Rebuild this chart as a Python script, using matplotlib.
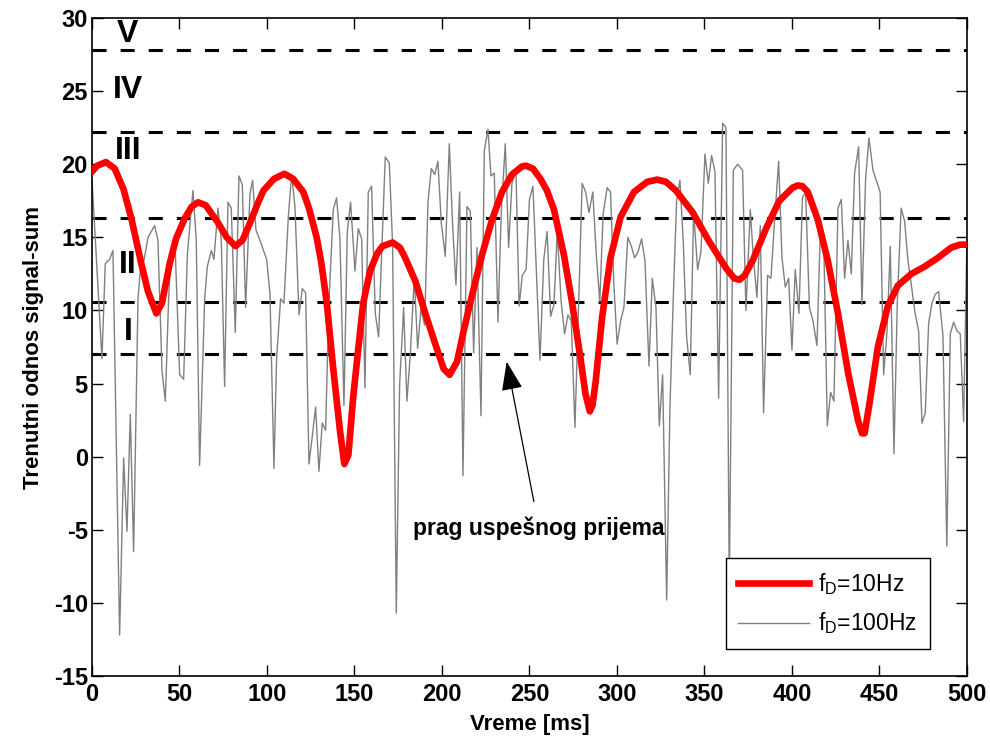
import numpy as np
import matplotlib
matplotlib.use("Agg")
import matplotlib.pyplot as plt

plt.rcParams['font.family'] = ['Liberation Sans', 'DejaVu Sans']
plt.rcParams['axes.unicode_minus'] = False

# fD = 100 Hz (tanka siva linija)
t_100 = [0, 5.7, 7.6, 10.1, 12, 15.8, 18.1, 20, 21.9, 23.8, 26.3, 28.2, 29.7, 32, 35.8, 37.7,
         40, 41.9, 43.8, 45.3, 47.6, 50.1, 52.4, 54.5, 57.7, 59.6, 61.5, 64.4, 65.9, 68.2, 69.7,
         72, 73.9, 75.8, 77.7, 79.6, 81.9, 84, 85.9, 87.8, 90.3, 91.8, 93.7, 96, 99.8, 101.7,
         104, 105.5, 107.8, 109.7, 112.2, 114.1, 116, 118.3, 120.2, 122.1, 124, 125.9, 127.8,
         129.7, 131.6, 133.5, 135.4, 137.9, 139.8, 141.7, 144, 145.9, 147.8, 150.3, 152.2,
         154.1, 156, 157.9, 159.8, 161.9, 163.8, 165.7, 167.6, 169.9, 171.8, 173.9, 175.8,
         178.1, 180, 181.9, 184.2, 186.1, 188, 190.1, 192, 193.9, 195.8, 197.7, 199.6, 201.9,
         204.2, 206.1, 208, 210.1, 212, 214.3, 216.2, 218.1, 220, 222.3, 224.2, 226.3, 228,
         229.9, 232, 233.9, 236.2, 238.1, 240, 242.3, 244.1, 245.9, 248.1, 250, 252, 253.9,
         256, 258.2, 260.1, 262.1, 264, 265.9, 268.1, 270.1, 272, 273.9, 276, 277.9, 280.1,
         282.1, 284, 286.2, 288.2, 290.2, 292.1, 294.4, 296.3, 298.2, 300.1, 302.1, 304,
         306.2, 308.2, 310.1, 312, 314.1, 316, 318.3, 320.2, 322.3, 324.2, 326.1, 328.4,
         330.3, 332.2, 334.1, 336, 337.9, 339.8, 341.9, 343.8, 346.1, 348, 350.3, 352.2,
         354.1, 356, 358.1, 360.4, 362.3, 364.2, 366.5, 369, 371.8, 373.7, 376.2, 377.9,
         380, 381.9, 383.8, 386.1, 388, 389.9, 392.4, 394.3, 396.2, 398.1, 400, 401.9, 404,
         406, 407.8, 410, 412, 414.3, 416.2, 418.1, 420.2, 422.1, 424, 426.3, 428.2, 430.1,
         432, 433.9, 435.8, 438.1, 440, 442.1, 444, 446.3, 450.4, 452.4, 454.3, 456.2, 458.3,
         460.2, 462.4, 464.4, 466.3, 468.5, 470.4, 472.4, 474.3, 476.2, 478.1, 480, 481.9,
         483.8, 486.3, 488.5, 490.5, 492.4, 494.3, 496.2, 498.1, 500]
snr_100 = [19.0, 6.7, 13.2, 13.5, 14.1, -12.2, -0.1, -5.1, 2.9, -6.5, 10.8, 13.5, 13.4, 15.0, 15.8, 14.8,
           5.9, 3.8, 10.8, 14.3, 14.1, 5.6, 5.3, 13.8, 18.2, 14.8, -0.6, 10.8, 13.0, 14.1, 13.5,
           17.0, 14.8, 4.8, 17.4, 17.0, 8.5, 19.2, 18.6, 10.2, 18.0, 18.9, 15.5, 14.8, 13.5, 11.2,
           -0.8, 6.7, 10.8, 10.5, 16.4, 19.3, 17.1, 9.7, 11.5, 11.2, -0.5, 1.4, 3.4,
           -1.0, 2.3, 1.8, 10.5, 16.9, 17.7, 14.9, 3.5, 15.4, 17.4, 12.7, 15.6,
           14.9, 4.7, 18.1, 18.5, 9.8, 8.2, 14.3, 20.5, 20.1, 14.5, -10.7, 4.9,
           10.2, 3.8, 7.0, 12.3, 7.4, 10.1, 9.0, 17.4, 19.7, 19.3, 20.2, 16.0, 13.7,
           21.4, 15.8, 11.75, 18.1, -1.3, 17.1, 16.8, 7.1, 14.3, 2.8, 20.9, 22.4, 19.2,
           19.4, 9.2, 16.8, 21.4, 14.3, 18.7, 19.5, 10.3, 12.4, 12.8, 17.6, 18.5, 12.8,
           6.6, 13.5, 15.4, 9.6, 10.4, 15.4, 10.6, 8.4, 9.7, 9.3, 2.0, 9.6, 18.7,
           18.1, 16.7, 18.1, 13.8, 10.6, 16.6, 18.4, 18.1, 11.9, 7.7, 9.3, 10.2,
           15.0, 14.4, 13.6, 14.0, 14.9, 13.4, 6.2, 12.2, 10.2, 2.1, 5.6, -9.8,
           3.4, 10.9, 17.5, 18.9, 14.7, 8.2, 5.6, 16.8, 12.8, 14.0, 20.7, 18.7,
           20.6, 19.5, 4.0, 22.8, 22.5, -9.0, 19.6, 20.0, 19.6, 10.0, 16.9, 13.7,
           10.9, 15.8, 3.0, 12.4, 12.2, 15.8, 20.2, 13.6, 11.6, 12.2, 7.3, 12.8, 9.8,
           17.7, 18.1, 10.2, 9.3, 7.6, 15.3, 15.3, 2.1, 4.4, 3.8, 17.0, 17.6, 12.2,
           14.8, 12.5, 19.4, 21.2, 10.4, 19.0, 21.8, 19.6, 18.1, 5.6, 8.5, 14.4, 0.2,
           10.5, 17.0, 16.1, 13.4, 11.5, 9.8, 8.6, 2.3, 3.0, 9.1, 10.5, 11.1,
           11.3, 8.3, -6.1, 8.4, 9.2, 8.6, 8.4, 2.4, 15.0]

# fD = 10 Hz (debela crvena linija)
t_10 = [0, 3, 8, 13, 18, 22.5, 28.2, 32, 36.8, 40, 44.4, 48, 53, 57, 60.6, 65, 72, 77, 82, 86,
        90, 95, 98, 104, 110, 115, 120.8, 124, 128.4, 131, 134.1, 137.9, 141.7, 144.2, 146.5,
        149.3, 152.2, 155, 158.9, 163, 166, 171.8, 176, 179, 184.8, 190.5, 196.2, 201, 204.4,
        208.6, 212.4, 217.1, 222.9, 228.6, 234.3, 240, 245.7, 248, 252, 256.3, 260, 264,
        269.7, 274.4, 279.2, 282, 284.5, 286, 287.8, 291.6, 296.3, 302.1, 309.7, 317.3, 323,
        328, 333.7, 343.3, 352.8, 362.3, 367, 370, 373, 377.5, 385.2, 392.8, 400.4, 403.4,
        406, 409.1, 414.8, 420.5, 426.3, 432, 437.7, 440, 441.5, 444.4, 449.1, 454.8, 460.5,
        468.2, 475.8, 483.4, 491, 496, 500]
snr_10 = [19.5, 19.9, 20.15, 19.7, 18.3, 16.3, 13.2, 11.3, 9.8, 10.5, 13.2, 14.9, 16.3, 17.1, 17.4, 17.2, 16.0, 15.0, 14.4, 14.8,
          15.9, 17.4, 18.2, 19.0, 19.35, 19.0, 18.1, 17.0, 15.0, 13.3, 10.6, 6.0, 1.8, -0.5, 0.1,
          4.1, 7.4, 10.5, 12.7, 13.9, 14.4, 14.65, 14.3, 13.6, 12.0, 9.8, 7.7, 6.0, 5.6,
          6.5, 8.6, 11.0, 13.8, 16.2, 18.1, 19.3, 19.85, 19.9, 19.7, 19.0, 18.2, 16.9,
          13.8, 10.5, 6.7, 4.3, 3.1, 3.5, 5.1, 9.6, 13.6, 16.4, 18.1, 18.8, 18.95,
          18.8, 18.2, 16.7, 14.7, 12.9, 12.2, 12.1, 12.4, 13.4, 15.6, 17.5, 18.4, 18.55,
          18.5, 18.1, 16.2, 13.4, 9.8, 5.8, 2.5, 1.6, 1.6, 3.7, 7.5, 10.3, 11.7,
          12.5, 13.0, 13.6, 14.3, 14.5, 14.5]

# pragovi i oznake oblasti
pragovi = [7.0, 10.6, 16.3, 22.2, 27.8]
oznake = ['I', 'II', 'III', 'IV', 'V']
oznake_y = [8.5, 13.1, 20.9, 25.1, 28.9]

fig = plt.figure(figsize=(9.9, 7.36), dpi=100)
ax = fig.add_axes([0.0929, 0.0815, 0.8838, 0.894])

for p in pragovi:
    ax.plot([0, 500], [p, p], color='black', lw=2.2, linestyle=(0, (4.6, 4.6)))

ax.plot(t_100, snr_100, color='#808080', lw=1.0, label=r'f$_\mathregular{D}$=100Hz', zorder=2)
ax.plot(t_10, snr_10, color='red', lw=4.8, label=r'f$_\mathregular{D}$=10Hz', zorder=3)

for o, y in zip(oznake, oznake_y):
    ax.text(20.5, y, o, fontsize=23, fontweight='bold', ha='center', va='center')

ax.annotate('prag uspešnog prijema', xy=(237, 6.5), xytext=(255.5, -4.9),
            fontsize=16.5, fontweight='bold', ha='center', va='center',
            arrowprops=dict(arrowstyle='-|>,head_length=1.1,head_width=0.4',
                            color='black', lw=0.9, shrinkA=9, shrinkB=0))

ax.set_xlim(0, 500)
ax.set_ylim(-15, 30)
ax.set_xticks(np.arange(0, 501, 50))
ax.set_yticks(np.arange(-15, 31, 5))
ax.tick_params(direction='in', top=True, right=True, length=8, width=1, labelsize=17)
ax.tick_params(axis='y', pad=3)
ax.tick_params(axis='x', pad=5)
for lab in ax.get_xticklabels() + ax.get_yticklabels():
    lab.set_fontweight('bold')
for s in ax.spines.values():
    s.set_linewidth(1.2)

ax.set_xlabel('Vreme [ms]', fontsize=16, fontweight='bold', labelpad=6)
ax.set_ylabel('Trenutni odnos signal-sum', fontsize=16, fontweight='bold', labelpad=7)

h, l = ax.get_legend_handles_labels()
leg = ax.legend(h[::-1], l[::-1], loc='lower right', bbox_to_anchor=(0.958, 0.041),
                borderaxespad=0, fontsize=16.5, handlelength=3.1, fancybox=False,
                framealpha=1, edgecolor='black', borderpad=0.55, labelspacing=0.6,
                handletextpad=0.4)
leg.get_frame().set_linewidth(1.0)

fig.savefig('out.png', dpi=100)
